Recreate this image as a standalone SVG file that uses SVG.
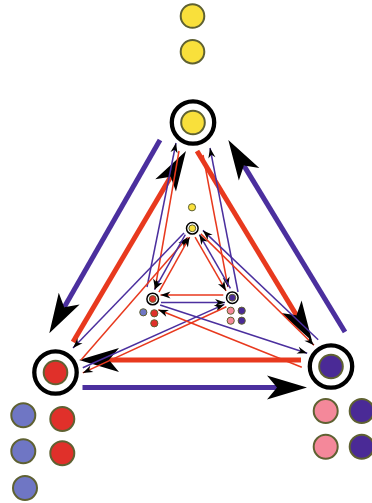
<svg xmlns="http://www.w3.org/2000/svg" width="372" height="503" viewBox="0 0 372 503">
<defs>
<style>
.bt{stroke:#4b2f9e;stroke-width:5;fill:none}
.rt{stroke:#e8391e;stroke-width:5;fill:none}
.b{stroke:#4b2f9e;stroke-width:1.5;fill:none}
.r{stroke:#e8391e;stroke-width:1.5;fill:none}
.big{marker-end:url(#ah)}
.sm{marker-end:url(#sh)}
.ring{fill:#fff;stroke:#000;stroke-width:4.3}
.sring{fill:#fff;stroke:#000;stroke-width:1.5}
.d{stroke:#5f6132;stroke-width:2}
.sd{stroke:#5f6132;stroke-width:1}
.y{fill:#f9e03b}.rd{fill:#e0302a}.lb{fill:#6f76c4}.pk{fill:#f4889a}.pu{fill:#4a2a96}
</style>
<marker id="ah" markerUnits="userSpaceOnUse" markerWidth="44" markerHeight="26" viewBox="-12 -13 44 26" refX="0" refY="0" orient="auto" overflow="visible">
<path d="M30,0 L-10,-12 L0,0 L-10,12 Z" fill="#000"/>
</marker>
<marker id="sh" markerUnits="userSpaceOnUse" markerWidth="12" markerHeight="8" viewBox="-4 -4 12 8" refX="7" refY="0" orient="auto" overflow="visible">
<path d="M7,0 L-3,-3.6 L0,0 L-3,3.6 Z" fill="#000"/>
</marker>
</defs>
<g id="connectors">
<path class="bt big" d="M160,140 L64.2,307.3"/>
<path class="rt big" d="M73,342 L170.7,176.8"/>
<path class="rt big" d="M197,151 L296.5,315.3"/>
<path class="bt big" d="M345,332 L243.9,165.6"/>
<path class="bt big" d="M82.5,387.5 L277,387.5"/>
<path class="rt big" d="M301,360 L109,360"/>
<path class="b sm" d="M147,287 L176,143"/>
<path class="r sm" d="M179,151 L155,289"/>
<path class="b sm" d="M238,292 L210,148"/>
<path class="r sm" d="M203,155 L228,287"/>
<path class="b sm" d="M184,233 L73,348"/>
<path class="r sm" d="M81,360 L187.6,237.6"/>
<path class="b sm" d="M82.8,367.8 L224.3,304.4"/>
<path class="r sm" d="M226.4,306.7 L82.8,372.9"/>
<path class="b sm" d="M318.2,339.7 L202.9,230.4"/>
<path class="r sm" d="M200.8,233.9 L314,345.3"/>
<path class="b sm" d="M160.1,305 L307.2,353.2"/>
<path class="r sm" d="M301.8,367.2 L158.3,309.7"/>
<path class="r sm" d="M223.3,295 L160.5,295"/>
<path class="b sm" d="M161,302.5 L225,302.5"/>
<path class="r sm" d="M158.9,292.1 L189.6,237.1"/>
<path class="b sm" d="M185.3,234.7 L154.5,289.7"/>
<path class="r sm" d="M195.1,237.1 L226.1,290.9"/>
<path class="b sm" d="M230.4,288.4 L199.4,234.6"/>
</g>
<g id="node-top">
<circle class="ring" cx="193" cy="122.5" r="21.2"/>
<circle class="d y" cx="193" cy="122.5" r="11.8"/>
<circle class="d y" cx="192.5" cy="16" r="11.8"/>
<circle class="d y" cx="192.5" cy="51.7" r="11.8"/>
</g>
<g id="node-left">
<circle class="ring" cx="55.5" cy="372.5" r="21.2"/>
<circle class="d rd" cx="55.5" cy="372.5" r="11.8"/>
<circle class="d lb" cx="23.3" cy="415.3" r="12"/>
<circle class="d lb" cx="23.3" cy="451.3" r="12"/>
<circle class="d lb" cx="25" cy="488" r="12"/>
<circle class="d rd" cx="62.3" cy="419" r="12"/>
<circle class="d rd" cx="62.3" cy="453.3" r="12"/>
</g>
<g id="node-right">
<circle class="ring" cx="331" cy="366.5" r="21.2"/>
<circle class="d pu" cx="331" cy="366.5" r="11.8"/>
<circle class="d pk" cx="325.7" cy="411" r="12"/>
<circle class="d pk" cx="325.7" cy="446.7" r="12"/>
<circle class="d pu" cx="361.7" cy="411" r="12"/>
<circle class="d pu" cx="361.7" cy="446.7" r="12"/>
</g>
<g id="node-small-top">
<circle class="sring" cx="192.3" cy="228.3" r="5.8"/>
<circle class="sd y" cx="192.3" cy="228.3" r="3.4"/>
<circle class="sd y" cx="192" cy="207.3" r="3.6"/>
</g>
<g id="node-small-left">
<circle class="sring" cx="152.7" cy="299" r="5.8"/>
<circle class="sd rd" cx="152.7" cy="299" r="3.4"/>
<circle class="sd lb" cx="143.3" cy="312.3" r="3.6"/>
<circle class="sd rd" cx="154.3" cy="313.3" r="3.6"/>
<circle class="sd rd" cx="154.3" cy="323.3" r="3.6"/>
</g>
<g id="node-small-right">
<circle class="sring" cx="232.3" cy="297.7" r="5.8"/>
<circle class="sd pu" cx="232.3" cy="297.7" r="3.4"/>
<circle class="sd pk" cx="230.7" cy="310.7" r="3.6"/>
<circle class="sd pu" cx="241.7" cy="310.7" r="3.6"/>
<circle class="sd pk" cx="230.7" cy="320.7" r="3.6"/>
<circle class="sd pu" cx="241.7" cy="320.7" r="3.6"/>
</g>
</svg>
